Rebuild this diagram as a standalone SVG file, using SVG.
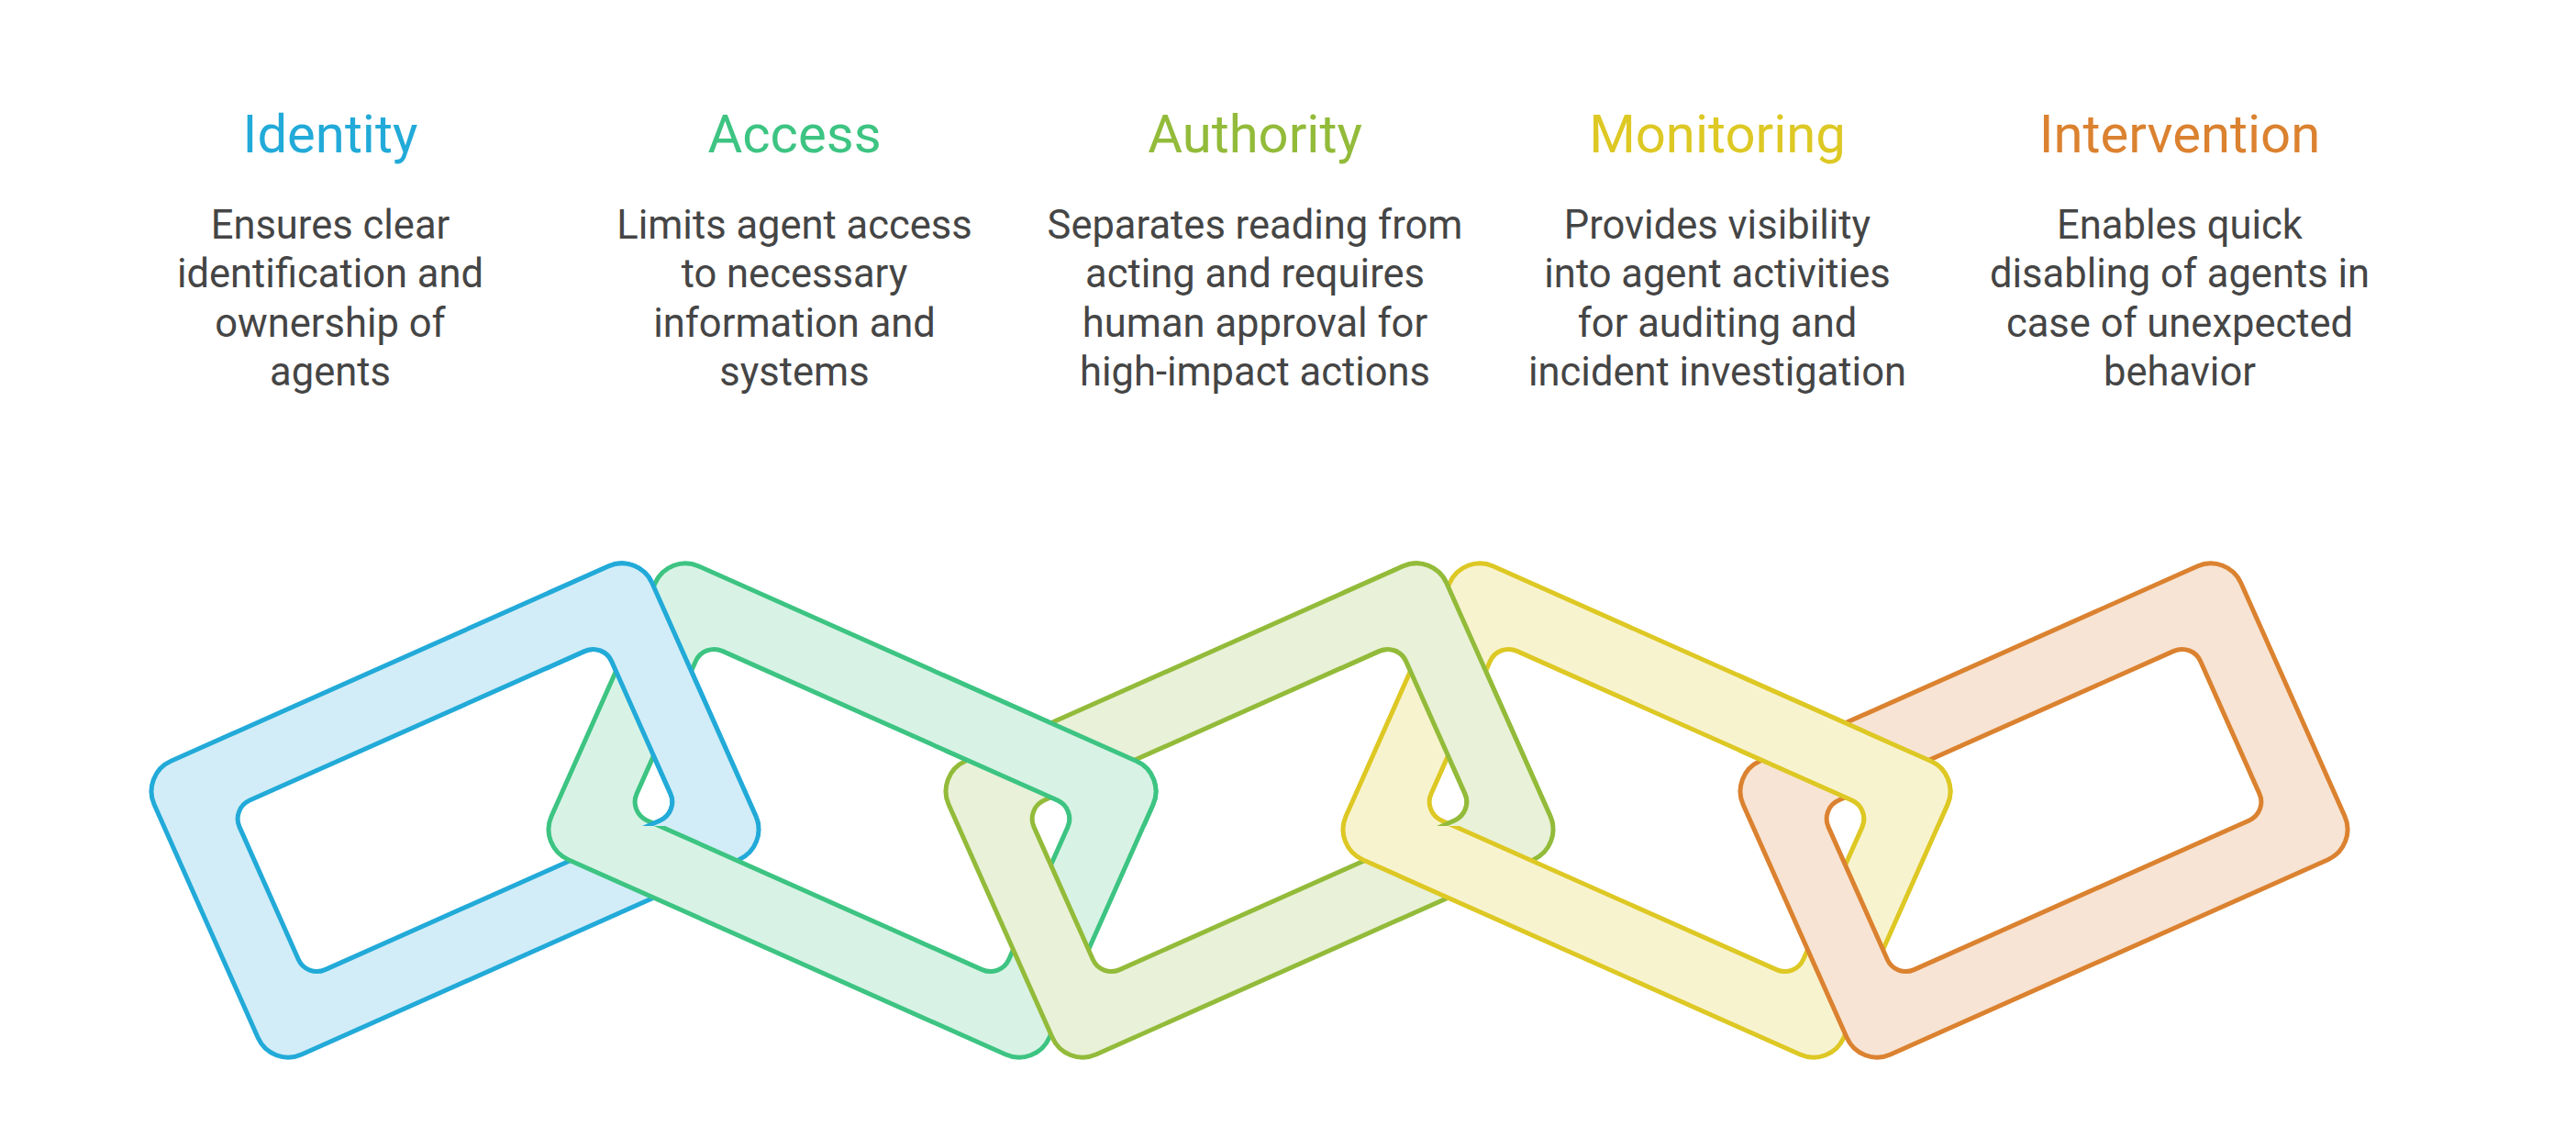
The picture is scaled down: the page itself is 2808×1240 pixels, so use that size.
<svg xmlns="http://www.w3.org/2000/svg" width="2808" height="1240" viewBox="0 0 2808 1240">
<style>
.t{font-family:Roboto,"Liberation Sans",sans-serif;font-size:58px;text-anchor:middle}
.d{font-family:Roboto,"Liberation Sans",sans-serif;font-size:43.5px;fill:#454545;text-anchor:middle}
.lk{stroke-width:5;fill-rule:evenodd;stroke-linejoin:round}
.c1{fill:#d2edf7;stroke:#22aad8}.c2{fill:#d8f3e5;stroke:#3dc482}.c3{fill:#e9f1d8;stroke:#93bb3a}.c4{fill:#f8f3cf;stroke:#ddc824}.c5{fill:#f7e4d4;stroke:#db8230}
</style>
<defs>
<path id="link" d="M -261 -175 H 261 A 36 36 0 0 1 297 -139 V 139 A 36 36 0 0 1 261 175 H -261 A 36 36 0 0 1 -297 139 V -139 A 36 36 0 0 1 -261 -175 Z M -200 -101 H 200 A 22 22 0 0 1 222 -79 V 79 A 22 22 0 0 1 200 101 H -200 A 22 22 0 0 1 -222 79 V -79 A 22 22 0 0 1 -200 -101 Z"/>
<clipPath id="k1"><rect x="596" y="560" width="300" height="340"/></clipPath>
<clipPath id="k2"><rect x="1029" y="560" width="300" height="340"/></clipPath>
<clipPath id="k3"><rect x="1462" y="560" width="300" height="340"/></clipPath>
<clipPath id="k4"><rect x="1895" y="560" width="300" height="340"/></clipPath>
</defs>
<g id="identity">
<text class="t" x="360" y="166" fill="#22aad8">Identity</text>
<text class="d" x="360" y="260">Ensures clear</text>
<text class="d" x="360" y="313">identification and</text>
<text class="d" x="360" y="367">ownership of</text>
<text class="d" x="360" y="420">agents</text>
</g>
<g id="access">
<text class="t" x="866" y="166" fill="#3dc482">Access</text>
<text class="d" x="866" y="260">Limits agent access</text>
<text class="d" x="866" y="313">to necessary</text>
<text class="d" x="866" y="367">information and</text>
<text class="d" x="866" y="420">systems</text>
</g>
<g id="authority">
<text class="t" x="1368" y="166" fill="#93bb3a">Authority</text>
<text class="d" x="1368" y="260">Separates reading from</text>
<text class="d" x="1368" y="313">acting and requires</text>
<text class="d" x="1368" y="367">human approval for</text>
<text class="d" x="1368" y="420">high-impact actions</text>
</g>
<g id="monitoring">
<text class="t" x="1872" y="166" fill="#ddc824">Monitoring</text>
<text class="d" x="1872" y="260">Provides visibility</text>
<text class="d" x="1872" y="313">into agent activities</text>
<text class="d" x="1872" y="367">for auditing and</text>
<text class="d" x="1872" y="420">incident investigation</text>
</g>
<g id="intervention">
<text class="t" x="2376" y="166" fill="#db8230">Intervention</text>
<text class="d" x="2376" y="260">Enables quick</text>
<text class="d" x="2376" y="313">disabling of agents in</text>
<text class="d" x="2376" y="367">case of unexpected</text>
<text class="d" x="2376" y="420">behavior</text>
</g>
<g id="chain">
<use href="#link" class="lk c1" transform="translate(496 883) rotate(-24)"/>
<use href="#link" class="lk c2" transform="translate(929 883) rotate(24)"/>
<g clip-path="url(#k1)"><use href="#link" class="lk c1" transform="translate(496 883) rotate(-24)"/></g>
<use href="#link" class="lk c3" transform="translate(1362 883) rotate(-24)"/>
<g clip-path="url(#k2)"><use href="#link" class="lk c2" transform="translate(929 883) rotate(24)"/></g>
<use href="#link" class="lk c4" transform="translate(1795 883) rotate(24)"/>
<g clip-path="url(#k3)"><use href="#link" class="lk c3" transform="translate(1362 883) rotate(-24)"/></g>
<use href="#link" class="lk c5" transform="translate(2228 883) rotate(-24)"/>
<g clip-path="url(#k4)"><use href="#link" class="lk c4" transform="translate(1795 883) rotate(24)"/></g>
</g>
</svg>
